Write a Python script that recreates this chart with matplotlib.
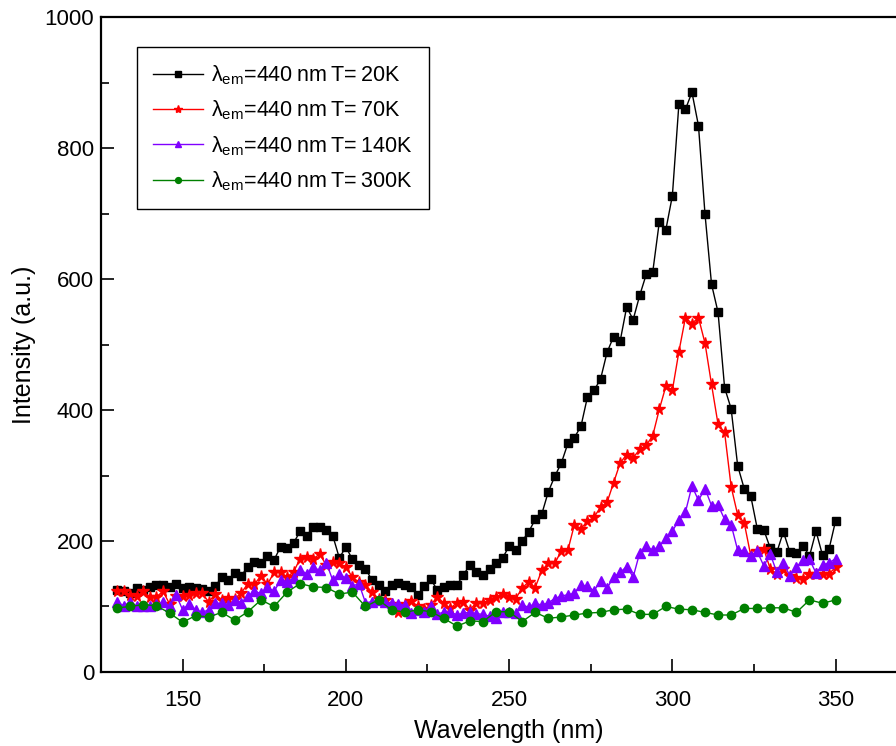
'''Excitation spectra at different temperatures (lambda_em = 440 nm)'''

# ----------------------------------------------------------------------------
# Modules

from matplotlib import pyplot as plt
from matplotlib.ticker import MultipleLocator
import numpy as np

plt.rcParams['font.family'] = ['Liberation Sans', 'DejaVu Sans']
plt.rcParams['mathtext.fontset'] = 'custom'
plt.rcParams['mathtext.rm'] = 'Liberation Sans'
plt.rcParams['mathtext.it'] = 'Liberation Sans:italic'

# ----------------------------------------------------------------------------
# Data

wl_fine = np.arange(130, 351, 2)      # 20K, 70K, 140K sampled every 2 nm
wl_coarse = np.arange(130, 351, 4)    # 300K sampled every 4 nm

int_20k = [125, 124, 120, 128, 125, 130, 133, 133, 130, 135,
           128, 130, 129, 126, 123, 131, 145, 141, 151, 147,
           161, 168, 167, 177, 171, 191, 189, 197, 215, 208,
           222, 221, 217, 208, 174, 191, 172, 163, 158, 140,
           133, 124, 133, 136, 133, 130, 118, 131, 142, 125,
           130, 133, 133, 148, 164, 153, 148, 157, 167, 174,
           192, 186, 200, 214, 233, 241, 275, 299, 319, 349,
           358, 375, 420, 430, 447, 488, 512, 505, 557, 538,
           575, 607, 611, 687, 675, 727, 867, 859, 885, 834,
           699, 592, 549, 434, 402, 315, 280, 269, 219, 217,
           189, 183, 214, 183, 181, 193, 177, 215, 178, 188,
           231]

int_70k = [124, 123, 118, 116, 123, 114, 115, 123, 104, 116,
           116, 117, 121, 120, 107, 119, 110, 113, 112, 121,
           135, 134, 147, 134, 152, 152, 145, 153, 173, 176,
           173, 180, 163, 168, 166, 160, 145, 137, 133, 122,
           112, 110, 104, 92, 104, 109, 100, 96, 102, 115,
           105, 97, 106, 107, 95, 106, 105, 110, 114, 119,
           115, 112, 128, 138, 129, 155, 166, 166, 185, 186,
           225, 219, 230, 236, 252, 259, 289, 319, 332, 327,
           340, 346, 361, 401, 436, 430, 489, 541, 532, 541,
           502, 439, 378, 366, 283, 240, 228, 178, 184, 188,
           157, 150, 157, 147, 144, 142, 150, 150, 150, 150,
           160]

int_140k = [107, 101, 107, 100, 100, 100, 104, 107, 100, 118,
            95, 104, 95, 91, 95, 105, 105, 102, 110, 106,
            116, 123, 120, 130, 123, 140, 138, 143, 156, 150,
            160, 155, 167, 140, 150, 143, 131, 135, 106, 107,
            110, 107, 105, 104, 102, 90, 95, 92, 101, 89,
            91, 92, 87, 90, 91, 89, 88, 85, 82, 92,
            91, 90, 102, 99, 105, 102, 106, 112, 116, 118,
            120, 133, 131, 124, 139, 128, 145, 152, 161, 145,
            182, 192, 186, 192, 204, 215, 232, 244, 284, 262,
            280, 254, 255, 233, 225, 186, 185, 177, 184, 162,
            180, 152, 166, 147, 160, 171, 172, 151, 163, 167,
            173]

int_300k = [98, 100, 103, 101, 90, 76, 86, 84, 91, 79,
            92, 110, 100, 122, 135, 130, 129, 119, 122, 100,
            110, 95, 91, 95, 92, 82, 70, 78, 77, 92,
            92, 77, 91, 82, 84, 87, 90, 91, 95, 96,
            88, 88, 100, 96, 95, 91, 87, 87, 97, 97,
            98, 98, 91, 110, 105, 110]

labels = ['λ$_{\\rm em}$=440\u2009nm\u2009T=\u200920K',
          'λ$_{\\rm em}$=440\u2009nm\u2009T=\u200970K',
          'λ$_{\\rm em}$=440\u2009nm\u2009T=\u2009140K',
          'λ$_{\\rm em}$=440\u2009nm\u2009T=\u2009300K']

# ----------------------------------------------------------------------------


def excitation_plot():
    """Plots the excitation spectra and saves them to out.png."""

    figure = plt.figure(figsize=(8.96, 7.46), dpi=100)
    # right edge of the axes falls outside the canvas, as in the original
    ax = figure.add_axes([0.1127, 0.0992, 0.911, 0.878])

    ax.plot(wl_fine, int_20k, '-', color='black', marker='s',
            markersize=5.8, linewidth=1, label=labels[0])
    ax.plot(wl_fine, int_70k, '-', color='red', marker='*',
            markersize=8.5, linewidth=1, label=labels[1])
    ax.plot(wl_fine, int_140k, '-', color='#8000ff', marker='^',
            markersize=6.8, linewidth=1, label=labels[2])
    ax.plot(wl_coarse, int_300k, '-', color='#008000', marker='o',
            markersize=6, linewidth=1, label=labels[3])

    ax.set_xlim(125, 375)
    ax.set_ylim(0, 1000)
    ax.xaxis.set_major_locator(MultipleLocator(50))
    ax.xaxis.set_minor_locator(MultipleLocator(25))
    ax.yaxis.set_major_locator(MultipleLocator(200))
    ax.yaxis.set_minor_locator(MultipleLocator(100))
    ax.tick_params(which='both', direction='in', width=1.2, labelsize=16)
    ax.tick_params(which='major', length=9.5)
    ax.tick_params(which='minor', length=5.5)
    ax.tick_params(axis='x', pad=13)
    ax.tick_params(axis='y', pad=5)
    for spine in ax.spines.values():
        spine.set_linewidth(1.6)

    ax.set_xlabel('Wavelength (nm)', fontsize=18, labelpad=6)
    ax.set_ylabel('Intensity (a.u.)', fontsize=18, labelpad=6)

    leg = ax.legend(loc='upper left', bbox_to_anchor=(0.153, 0.937),
                    bbox_transform=figure.transFigure, borderaxespad=0,
                    fontsize=15.5, fancybox=False, edgecolor='black',
                    framealpha=1, handlelength=2.3, handletextpad=0.4,
                    labelspacing=0.55, borderpad=0.75, markerscale=0.7)
    leg.get_frame().set_linewidth(1.0)

    figure.savefig('out.png', dpi=100)

    return None

# ----------------------------------------------------------------------------


def main():

    excitation_plot()

    return None

# ----------------------------------------------------------------------------


if __name__ == "__main__":
    main()
